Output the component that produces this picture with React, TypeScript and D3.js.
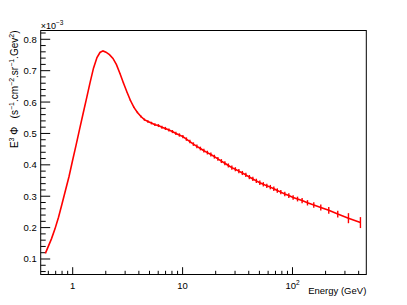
import { useEffect } from "react";
import * as d3 from "d3";

// E^3 flux spectrum, values in units of 1e-3
const energy = [
  0.564, 0.596, 0.642, 0.690, 0.743, 0.799, 0.860, 0.926, 0.996, 1.072,
  1.153, 1.241, 1.335, 1.437, 1.546, 1.663, 1.771, 1.886, 2.008, 2.160,
  2.325, 2.501, 2.692, 2.896, 3.116, 3.354, 3.608, 3.882, 4.177,
  4.494, 4.836, 5.205, 5.601, 6.026, 6.483, 6.977, 7.507, 8.078, 8.690,
  9.352, 10.06, 10.83, 11.65, 12.54, 13.49, 14.52, 15.62, 16.81, 18.08,
  19.46, 20.94, 22.53, 24.24, 26.09, 28.07, 30.20, 32.50, 34.97, 37.63,
  40.49, 43.57, 46.88, 50.44, 54.27, 58.40, 62.84, 67.61, 72.75, 78.28,
  85.11, 92.55, 101.3, 111.1, 122.3, 136.9, 156.2, 180.9, 213.8, 258.1,
  322.9, 415.1,
];
const flux = [
  0.118, 0.138, 0.165, 0.196, 0.233, 0.275, 0.319, 0.363, 0.413, 0.462,
  0.512, 0.562, 0.611, 0.661, 0.708, 0.742, 0.758, 0.763, 0.759, 0.751,
  0.739, 0.719, 0.691, 0.661, 0.632, 0.605, 0.583, 0.567, 0.554,
  0.544, 0.538, 0.533, 0.528, 0.525, 0.520, 0.516, 0.511, 0.506, 0.500,
  0.495, 0.490, 0.482, 0.474, 0.466, 0.459, 0.452, 0.445, 0.439, 0.433,
  0.426, 0.419, 0.412, 0.405, 0.398, 0.391, 0.386, 0.380, 0.374, 0.368,
  0.361, 0.355, 0.349, 0.343, 0.338, 0.333, 0.329, 0.324, 0.318, 0.313,
  0.307, 0.302, 0.296, 0.291, 0.286, 0.279, 0.272, 0.264, 0.255, 0.243,
  0.230, 0.216,
];
const fluxErr = [
  0, 0, 0, 0, 0, 0, 0, 0, 0, 0,
  0, 0, 0, 0, 0, 0, 0, 0, 0, 0,
  0, 0, 0.0005, 0.0008, 0.001, 0.0015, 0.002, 0.0025, 0.003,
  0.0035, 0.004, 0.0042, 0.0045, 0.0047, 0.0048, 0.005, 0.005, 0.005, 0.0052,
  0.0053, 0.0054, 0.0055, 0.0056, 0.0057, 0.0058, 0.0059, 0.006, 0.006, 0.0061,
  0.0062, 0.0062, 0.0063, 0.0064, 0.0064, 0.0065, 0.0065, 0.0066, 0.0066, 0.0067,
  0.0067, 0.0068, 0.0068, 0.0069, 0.0069, 0.007, 0.007, 0.007, 0.0071, 0.0071,
  0.0072, 0.0073, 0.0074, 0.0076, 0.008, 0.0085, 0.009, 0.0095, 0.0105, 0.011,
  0.016, 0.0175,
];

const yMajor = [0.1, 0.2, 0.3, 0.4, 0.5, 0.6, 0.7, 0.8];
const yMinor = [0.06, 0.08, 0.12, 0.14, 0.16, 0.18, 0.22, 0.24, 0.26, 0.28, 0.32, 0.34, 0.36, 0.38,
  0.42, 0.44, 0.46, 0.48, 0.52, 0.54, 0.56, 0.58, 0.62, 0.64, 0.66, 0.68, 0.72, 0.74, 0.76, 0.78, 0.82];
const xMajor = [1, 10, 100];
const xMinor = [0.6, 0.7, 0.8, 0.9, 2, 3, 4, 5, 6, 7, 8, 9, 20, 30, 40, 50, 60, 70, 80, 90, 200, 300, 400];

const W = 407, H = 305;
const FONT = "'Liberation Sans', Arial, Helvetica, sans-serif";

export default function App() {
  useEffect(() => {
    document.body.style.margin = "0";
  }, []);

  const left = 40.7, right = 366.3, top = 30.5, bottom = 274.5;
  const x = d3.scaleLog().domain([0.5115, 469.4]).range([left, right]);
  const y = d3.scaleLinear().domain([0.0506, 0.828]).range([bottom, top]);

  const pts = energy.map((e, i) => ({ e, v: flux[i], err: fluxErr[i] }));
  const line = d3.line<{ e: number; v: number }>()
    .x(d => x(d.e))
    .y(d => y(d.v));

  return (
    <svg width={W} height={H} style={{ display: "block", background: "#fff" }} fontFamily={FONT}>
      <rect x={0} y={0} width={W} height={H} fill="#fff" />
      {/* frame */}
      <rect x={left} y={top} width={right - left} height={bottom - top} fill="none" stroke="#000" strokeWidth={1} />

      {/* y ticks */}
      {yMajor.map(v => (
        <g key={"ym" + v}>
          <line x1={left} x2={left + 9.5} y1={y(v)} y2={y(v)} stroke="#000" />
          <text x={left - 4} y={y(v) + 3.5} fontSize={9.5} textAnchor="end" fill="#000">{v.toFixed(1)}</text>
        </g>
      ))}
      {yMinor.map(v => (
        <line key={"yn" + v} x1={left} x2={left + 5} y1={y(v)} y2={y(v)} stroke="#000" />
      ))}
      <text x={left} y={28.5} fontSize={9} fill="#000">
        ×10<tspan fontSize={6.5} dy={-4}>−3</tspan>
      </text>

      {/* x ticks */}
      {xMajor.map(v => (
        <line key={"xm" + v} x1={x(v)} x2={x(v)} y1={bottom} y2={bottom - 7.3} stroke="#000" />
      ))}
      {xMinor.map(v => (
        <line key={"xn" + v} x1={x(v)} x2={x(v)} y1={bottom} y2={bottom - 3.7} stroke="#000" />
      ))}
      <text x={x(1)} y={289} fontSize={9.5} textAnchor="middle">1</text>
      <text x={x(10)} y={289} fontSize={9.5} textAnchor="middle">10</text>
      <text x={x(100)} y={289} fontSize={9.5} textAnchor="middle">
        10<tspan fontSize={6.5} dy={-4}>2</tspan>
      </text>
      <text x={right} y={294} fontSize={9.5} textAnchor="end">Energy (GeV)</text>

      {/* y title */}
      <text transform={`translate(18,${top}) rotate(-90)`} fontSize={10} textAnchor="end">
        E<tspan fontSize={7} dy={-4}>3</tspan><tspan dy={4}>{"\u00a0Φ\u00a0\u00a0\u00a0(s"}</tspan>
        <tspan fontSize={7} dy={-4}>−1</tspan><tspan dy={4}>.cm</tspan>
        <tspan fontSize={7} dy={-4}>−2</tspan><tspan dy={4}>.sr</tspan>
        <tspan fontSize={7} dy={-4}>−1</tspan><tspan dy={4}>.Gev</tspan>
        <tspan fontSize={7} dy={-4}>2</tspan><tspan dy={4}>)</tspan>
      </text>

      {/* data */}
      <path d={line(pts) ?? ""} fill="none" stroke="#ff0000" strokeWidth={1.6} />
      {pts.filter(p => p.err > 0).map((p, i) => (
        <line key={"e" + i} x1={x(p.e)} x2={x(p.e)} y1={y(p.v - p.err)} y2={y(p.v + p.err)}
          stroke="#ff0000" strokeWidth={1.4} />
      ))}
    </svg>
  );
}
